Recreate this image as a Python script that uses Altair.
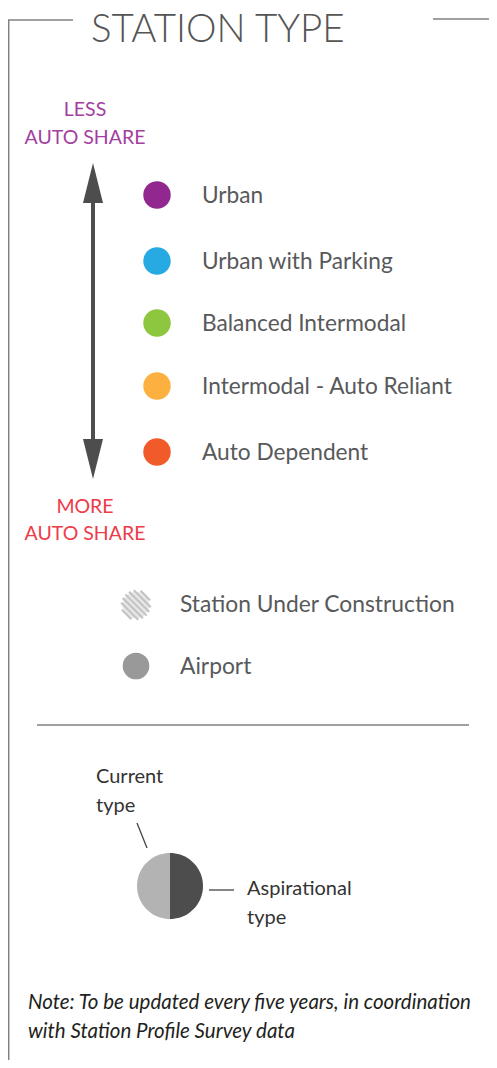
import altair as alt
import pandas as pd
import numpy as np

# ---- content ----
title_text = "STATION TYPE"
less_lines = ["LESS", "AUTO SHARE"]
more_lines = ["MORE", "AUTO SHARE"]
station_types = ["Urban", "Urban with Parking", "Balanced Intermodal",
                 "Intermodal - Auto Reliant", "Auto Dependent"]
type_colors = ["#92278f", "#27aae1", "#8dc63f", "#fbb040", "#f15a29"]
other_labels = ["Station Under Construction", "Airport"]
current_lines = ["Current", "type"]
aspirational_lines = ["Aspirational", "type"]
note_lines = ["Note: To be updated every five years, in coordination",
              "with Station Profile Survey data"]
split_colors = ["#b3b3b3", "#4d4d4d"]

# ---- layout (page pixels) ----
FONT = "Lato"
TXT = "#58595b"
W, H = 481, 1052
X0, Y0 = 8, 8

xs = alt.Scale(domain=[X0, X0 + W], nice=False, zero=False)
ys = alt.Scale(domain=[Y0 + H, Y0], nice=False, zero=False)
X = alt.X("x:Q", scale=xs, axis=None)
Y = alt.Y("y:Q", scale=ys, axis=None)


def text_layer(lines, x, y0, dy, size, color, align="left", style="normal",
               weight="normal", font=FONT, baseline="middle"):
    df = pd.DataFrame({"t": lines, "x": [x] * len(lines),
                       "y": [y0 + i * dy for i in range(len(lines))]})
    return alt.Chart(df).mark_text(align=align, baseline=baseline, font=font,
                                   fontSize=size, color=color, fontStyle=style,
                                   fontWeight=weight).encode(x=X, y=Y, text="t:N")


def rule_layer(segs, color, width):
    df = pd.DataFrame(segs, columns=["x", "y", "x2", "y2"])
    return alt.Chart(df).mark_rule(color=color, strokeWidth=width).encode(
        x=X, y=Y, x2="x2:Q", y2="y2:Q")


# frame
frame = rule_layer([[8.7, 20, 8.7, 1068], [8, 20, 73, 20], [433, 19, 497, 19]], "#808080", 1.5)

title = text_layer([title_text], 91, 42, 0, 38.5, "#555555", weight=300,
                   baseline="alphabetic")
less = text_layer(less_lines, 85, 110, 28, 19.5, "#a3409f", align="center")
more = text_layer(more_lines, 85, 507, 27, 19.5, "#ee3b48", align="center")

# arrow
shaft = rule_layer([[93, 195, 93, 448]], "#4d4d4d", 4)
heads = pd.DataFrame({"x": [93, 93], "y": [183, 459], "d": ["up", "down"]})
tri_up = "M0,-1L0.5,1L-0.5,1Z"
tri_dn = "M0,1L0.5,-1L-0.5,-1Z"
arrow_up = alt.Chart(heads[heads.d == "up"]).mark_point(
    shape=tri_up, size=1600, filled=True, color="#4d4d4d", opacity=1).encode(x=X, y=Y)
arrow_dn = alt.Chart(heads[heads.d == "down"]).mark_point(
    shape=tri_dn, size=1600, filled=True, color="#4d4d4d", opacity=1).encode(x=X, y=Y)

# station type dots
type_y = [195, 261, 323, 386, 452]
dots_df = pd.DataFrame({"type": station_types, "x": [157] * 5, "y": type_y})
dots = alt.Chart(dots_df).mark_circle(size=np.pi * 15.5 ** 2, opacity=1).encode(
    x=X, y=Y,
    color=alt.Color("type:N", scale=alt.Scale(domain=station_types, range=type_colors),
                    legend=None))
type_labels = alt.Chart(dots_df.assign(x=202, y=[v + 1 for v in type_y])).mark_text(
    align="left", baseline="middle", font=FONT, fontSize=22.7, color=TXT).encode(
    x=X, y=Y, text="type:N")

# under construction (hatched) and airport
hatch_bg = alt.Chart(pd.DataFrame({"x": [136], "y": [605]})).mark_circle(
    size=np.pi * 15 ** 2, color="#e6e6e6", opacity=1).encode(x=X, y=Y)
parts = []
for c in np.arange(-1.26, 1.27, 0.42):
    if abs(c) >= np.sqrt(2) - 0.02:
        continue
    r = np.sqrt(2 - c * c)
    xa, xb = (-c - r) / 2, (-c + r) / 2
    parts.append(f"M{xa:.3f},{xa + c:.3f}L{xb:.3f},{xb + c:.3f}")
stripe_path = "".join(parts)
hatch = alt.Chart(pd.DataFrame({"x": [136], "y": [605]})).mark_point(
    shape=stripe_path, size=900, filled=False, color="#c2c2c2", strokeWidth=2,
    opacity=1).encode(x=X, y=Y)
airport = alt.Chart(pd.DataFrame({"x": [136], "y": [666]})).mark_circle(
    size=np.pi * 15 ** 2, color="#999999", opacity=1).encode(x=X, y=Y)
other_df = pd.DataFrame({"t": other_labels, "x": [180, 180], "y": [605, 667]})
other_txt = alt.Chart(other_df).mark_text(
    align="left", baseline="middle", font=FONT, fontSize=22.8, color=TXT).encode(
    x=X, y=Y, text="t:N")

sep = rule_layer([[37, 725, 469, 725]], "#a0a0a0", 2)

# split circle
ang = np.linspace(0, np.pi, 41)
left_path = "M0,-1" + "".join(f"L{-np.sin(a):.4f},{-np.cos(a):.4f}" for a in ang[1:]) + "Z"
right_path = "M0,-1" + "".join(f"L{np.sin(a):.4f},{-np.cos(a):.4f}" for a in ang[1:]) + "Z"
half_df = pd.DataFrame({"x": [170], "y": [886]})
half_l = alt.Chart(half_df).mark_point(shape=left_path, size=66 ** 2, filled=True,
                                       color=split_colors[0], opacity=1).encode(x=X, y=Y)
half_r = alt.Chart(half_df).mark_point(shape=right_path, size=66 ** 2, filled=True,
                                       color=split_colors[1], opacity=1).encode(x=X, y=Y)
leaders = rule_layer([[137, 823, 147, 848], [209, 890, 234, 890]], "#444444", 1.3)
current = text_layer(current_lines, 96, 777, 29, 20, "#333333")
aspir = text_layer(aspirational_lines, 247, 889, 29, 20, "#333333")

note = text_layer(note_lines, 28, 1003, 29, 20.5, "#231f20", style="italic")

chart = alt.layer(
    frame, title, less, more, shaft, arrow_up, arrow_dn, dots, type_labels,
    hatch_bg, hatch, airport, other_txt, sep, half_l, half_r, leaders,
    current, aspir, note
).properties(width=W, height=H, padding=0, autosize="none",
             background="white").configure_view(stroke=None)

chart.save("out.html", embed_options={"renderer": "svg", "actions": False})
